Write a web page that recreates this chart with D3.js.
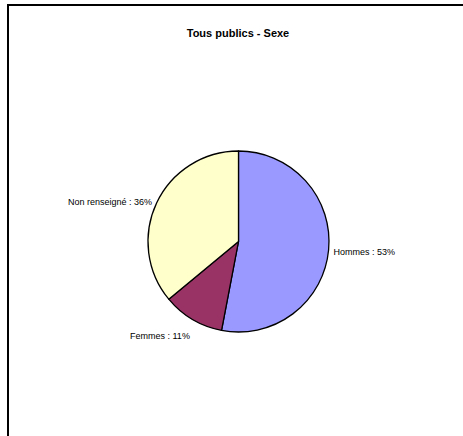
<!DOCTYPE html>
<html>
<head>
<meta charset="utf-8">
<script src="https://cdn.jsdelivr.net/npm/d3@7"></script>
<style>
  html, body { margin: 0; padding: 0; background: #fff; }
  svg { display: block; }
</style>
</head>
<body>
<svg id="chart" width="463" height="436"></svg>
<script>
const title = "Tous publics - Sexe";
const categories = ["Hommes", "Femmes", "Non renseigné"];
const values = [53, 11, 36];
const colors = ["#9999FF", "#993366", "#FFFFCC"];

const svg = d3.select("#chart");
const W = 463, H = 436;

// frame (open on the right and bottom, as in the reference crop)
svg.append("rect")
  .attr("x", 8).attr("y", 5)
  .attr("width", W + 20).attr("height", H + 20)
  .attr("fill", "#fff")
  .attr("stroke", "#000").attr("stroke-width", 2);

svg.append("text")
  .attr("x", 238).attr("y", 37)
  .attr("text-anchor", "middle")
  .attr("font-family", "Liberation Sans, Arial, sans-serif")
  .attr("font-weight", "bold")
  .attr("font-size", 11)
  .text(title);

const cx = 238.5, cy = 241.5, r = 90.5;
const g = svg.append("g").attr("transform", `translate(${cx},${cy})`);

const pie = d3.pie().sort(null).value(d => d)(values);
const arc = d3.arc().innerRadius(0).outerRadius(r);

g.selectAll("path.slice")
  .data(pie)
  .enter().append("path")
  .attr("class", "slice")
  .attr("d", arc)
  .attr("fill", (d, i) => colors[i])
  .attr("stroke", "#000")
  .attr("stroke-width", 1.3)
  .attr("stroke-linejoin", "round");

const labelR = r + 5;
g.selectAll("text.lbl")
  .data(pie)
  .enter().append("text")
  .attr("class", "lbl")
  .each(function(d, i) {
    const a = (d.startAngle + d.endAngle) / 2;
    const sx = Math.sin(a), yd = -Math.cos(a);
    const px = labelR * sx;
    const py = labelR * yd + 4 + 18 * Math.pow(Math.max(yd, 0), 3);
    d3.select(this)
      .attr("x", px).attr("y", py)
      .attr("text-anchor", sx >= 0 ? "start" : "end");
  })
  .attr("font-family", "Liberation Sans, Arial, sans-serif")
  .attr("font-size", 9)
  .attr("fill", "#000")
  .text((d, i) => `${categories[i]} : ${values[i]}%`);
</script>
</body>
</html>
